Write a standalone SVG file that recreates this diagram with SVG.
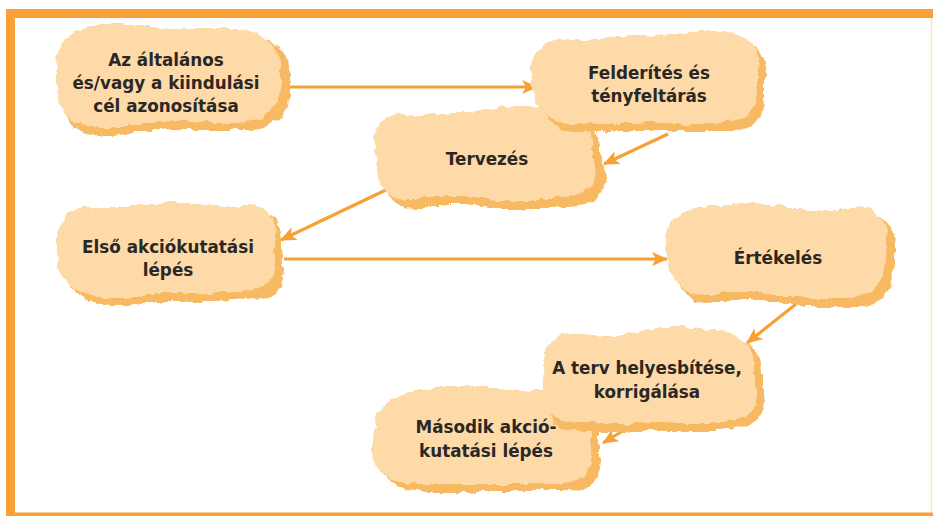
<svg xmlns="http://www.w3.org/2000/svg" width="933" height="516" viewBox="0 0 933 516">
  <style>
    .blob { fill: #FDDAA8; }
    .shadow { fill: #F8B964; }
    .lbl { font-family: "DejaVu Sans", "Liberation Sans", sans-serif; font-size: 16.8px; font-weight: bold; fill: #2B2724; text-anchor: middle; }
    .conn { stroke: #F7A033; stroke-width: 3.2; fill: none; marker-end: url(#arr); }
    .frame { stroke: #F9A038; fill: none; }
  </style>
  <defs>
    <filter id="rough" x="-15%" y="-25%" width="130%" height="150%">
      <feTurbulence type="fractalNoise" baseFrequency="0.014" numOctaves="1" seed="4" result="n1"/>
      <feDisplacementMap in="SourceGraphic" in2="n1" scale="22" xChannelSelector="R" yChannelSelector="G" result="d1"/>
      <feTurbulence type="fractalNoise" baseFrequency="0.09" numOctaves="2" seed="9" result="n2"/>
      <feDisplacementMap in="d1" in2="n2" scale="6" xChannelSelector="R" yChannelSelector="G"/>
    </filter>
    <marker id="arr" markerUnits="userSpaceOnUse" markerWidth="18" markerHeight="14" refX="15" refY="7" orient="auto">
      <path d="M0,0 L16,7 L0,14 L4,7 Z" fill="#F7A033"/>
    </marker>
  </defs>
  <rect width="933" height="516" fill="#FFFFFF"/>
  <g id="frame">
    <line class="frame" x1="6" y1="13.5" x2="933" y2="13.5" stroke-width="9"/>
    <line class="frame" x1="10.5" y1="9" x2="10.5" y2="516" stroke-width="9"/>
    <line class="frame" x1="6" y1="514.5" x2="933" y2="514.5" stroke-width="4"/>
    <line x1="931.5" y1="18" x2="931.5" y2="512" stroke="#FCE3C6" stroke-width="1.5"/>
  </g>
  <g id="connectors">
    <line class="conn" x1="288" y1="87" x2="537" y2="87"/>
    <line class="conn" x1="668" y1="134" x2="604" y2="164"/>
    <line class="conn" x1="390" y1="188" x2="281" y2="240"/>
    <line class="conn" x1="284" y1="259" x2="667" y2="259"/>
    <line class="conn" x1="796" y1="304" x2="747" y2="343"/>
    <line class="conn" x1="634" y1="424" x2="603" y2="443"/>
  </g>
  <g id="node1">
    <g filter="url(#rough)">
      <rect class="shadow" x="61" y="34" width="228" height="98" rx="34"/>
      <rect class="blob" x="55" y="28" width="226" height="96" rx="34"/>
    </g>
    <text class="lbl" x="166" y="66">Az általános</text>
    <text class="lbl" x="166" y="89">és/vagy a kiindulási</text>
    <text class="lbl" x="166" y="112">cél azonosítása</text>
  </g>
  <g id="node3">
    <g filter="url(#rough)">
      <rect class="shadow" x="382" y="116" width="220" height="92" rx="32"/>
      <rect class="blob" x="376" y="110" width="218" height="90" rx="32"/>
    </g>
    <text class="lbl" x="487" y="165">Tervezés</text>
  </g>
  <g id="node2">
    <g filter="url(#rough)">
      <rect class="shadow" x="542" y="41" width="222" height="90" rx="32"/>
      <rect class="blob" x="536" y="35" width="220" height="88" rx="32"/>
    </g>
    <text class="lbl" x="649" y="79">Felderítés és</text>
    <text class="lbl" x="649" y="102">tényfeltárás</text>
  </g>
  <g id="node4">
    <g filter="url(#rough)">
      <rect class="shadow" x="65" y="210" width="220" height="92" rx="32"/>
      <rect class="blob" x="59" y="204" width="218" height="90" rx="32"/>
    </g>
    <text class="lbl" x="168" y="253">Első akciókutatási</text>
    <text class="lbl" x="168" y="276">lépés</text>
  </g>
  <g id="node5">
    <g filter="url(#rough)">
      <rect class="shadow" x="672" y="213" width="222" height="90" rx="32"/>
      <rect class="blob" x="666" y="207" width="220" height="88" rx="32"/>
    </g>
    <text class="lbl" x="778" y="264">Értékelés</text>
  </g>
  <g id="node7">
    <g filter="url(#rough)">
      <rect class="shadow" x="382" y="398" width="220" height="92" rx="32"/>
      <rect class="blob" x="376" y="392" width="218" height="90" rx="32"/>
    </g>
    <text class="lbl" x="486" y="433">Második akció-</text>
    <text class="lbl" x="486" y="457">kutatási lépés</text>
  </g>
  <g id="node6">
    <g filter="url(#rough)">
      <rect class="shadow" x="545" y="337" width="216" height="94" rx="32"/>
      <rect class="blob" x="539" y="331" width="214" height="92" rx="32"/>
    </g>
    <text class="lbl" x="647" y="374">A terv helyesbítése,</text>
    <text class="lbl" x="647" y="398">korrigálása</text>
  </g>
</svg>
